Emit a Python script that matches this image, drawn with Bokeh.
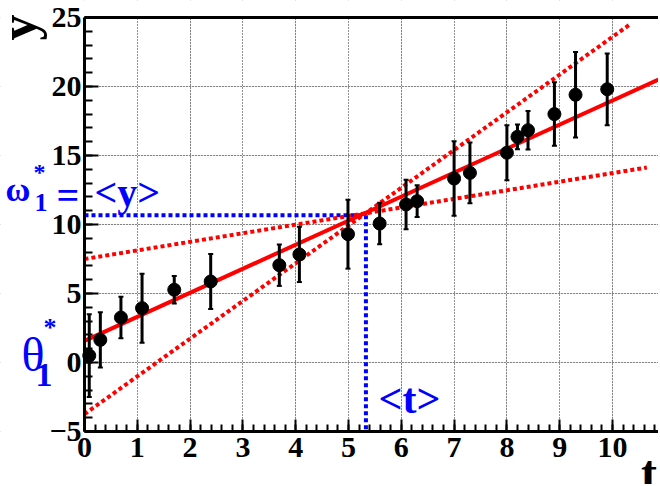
from bokeh.plotting import figure
from bokeh.models import (ColumnDataSource, Label, Range1d, Whisker, TeeHead,
                          LinearAxis, Grid, SingleIntervalTicker, FixedTicker)
from bokeh.embed import file_html
from bokeh.resources import INLINE

# data points
t_vals = [0.09, 0.30, 0.69, 1.09, 1.70, 2.39, 3.69, 4.07, 4.99, 5.59,
          6.09, 6.30, 7.00, 7.30, 8.00, 8.20, 8.40, 8.90, 9.30, 9.90]
y_vals = [0.50, 1.64, 3.26, 3.94, 5.27, 5.87, 7.05, 7.83, 9.30, 10.07,
          11.45, 11.69, 13.33, 13.74, 15.20, 16.35, 16.83, 18.00, 19.40, 19.80]
y_errs = [3.0, 2.0, 1.5, 2.5, 1.0, 2.0, 1.5, 2.0, 2.5, 1.5,
          1.8, 1.15, 2.7, 2.2, 2.0, 0.9, 1.4, 2.3, 3.1, 2.6]

# fitted line and two alternative lines (end points)
fit_t = [0.0, 10.87]
fit_y = [1.57, 20.5]
steep_t = [0.0, 10.33]
steep_y = [-3.74, 24.5]
flat_t = [0.0, 10.65]
flat_y = [7.5, 14.13]

# centroid
mean_t = 5.33
mean_y = 10.67

# axes extents
t_min, t_max = 0.0, 10.87
y_min, y_max = -5.0, 25.0

RED = "#ff0000"
BLUE = "#0000ff"
SERIF = "Liberation Serif"

W, H = 658, 484
# pixel mapping: 52.8 px per t unit, 13.8 px per y unit
x_lo = -84 / 52.8
x_hi = x_lo + W / 52.8
y_hi = y_max + 17 / 13.8
y_lo = y_hi - H / 13.8

p = figure(width=W, height=H, output_backend="svg", toolbar_location=None,
           x_range=Range1d(x_lo, x_hi), y_range=Range1d(y_lo, y_hi),
           x_axis_location=None, y_axis_location=None,
           min_border=0)
p.outline_line_color = None
p.background_fill_color = "white"
p.border_fill_color = "white"

xt = SingleIntervalTicker(interval=1, num_minor_ticks=5)
yt = SingleIntervalTicker(interval=5, num_minor_ticks=5)

p.add_layout(Grid(dimension=0, ticker=xt, grid_line_color="#222222",
                  grid_line_width=1, grid_line_dash="1 2"))
p.add_layout(Grid(dimension=1, ticker=yt, grid_line_color="#222222",
                  grid_line_width=1, grid_line_dash="1 2"))

# mask grid outside the plotting box
p.quad(left=[x_lo - 1, x_lo - 1, x_lo - 1], right=[t_min, x_hi + 1, x_hi + 1],
       bottom=[y_lo - 1, y_max, y_lo - 1], top=[y_hi + 1, y_hi + 1, y_min],
       fill_color="white", line_color=None)

def style_axis(ax):
    ax.axis_line_width = 3
    ax.axis_line_color = "black"
    ax.major_tick_out = 0
    ax.minor_tick_out = 0
    ax.major_tick_line_width = 2
    ax.minor_tick_line_width = 2
    ax.major_label_text_font = SERIF
    ax.major_label_text_font_style = "bold"
    ax.major_label_text_font_size = "30px"
    ax.major_label_text_color = "black"

xaxis = LinearAxis(ticker=xt, fixed_location=y_min, bounds=(t_min, t_max))
style_axis(xaxis)
xaxis.major_tick_in = 12
xaxis.minor_tick_in = 7
xaxis.major_label_standoff = 6
p.add_layout(xaxis, "below")

yaxis = LinearAxis(ticker=yt, fixed_location=t_min, bounds=(y_min, y_max))
style_axis(yaxis)
yaxis.major_tick_in = 14
yaxis.minor_tick_in = 8
yaxis.major_label_standoff = 3
p.add_layout(yaxis, "left")

topaxis = LinearAxis(ticker=FixedTicker(ticks=[], minor_ticks=[]), fixed_location=y_max,
                     bounds=(t_min, t_max),
                     major_tick_in=0, major_tick_out=0, minor_tick_in=0, minor_tick_out=0,
                     axis_line_width=3)
p.add_layout(topaxis, "above")

# blue centroid lines
p.line([t_min, mean_t], [mean_y, mean_y], line_color=BLUE, line_width=4, line_dash="4 3")
p.line([mean_t, mean_t], [mean_y, y_min], line_color=BLUE, line_width=4, line_dash="4 3")

# error bars
src = ColumnDataSource(dict(t=t_vals, y=y_vals,
                            lo=[y - e for y, e in zip(y_vals, y_errs)],
                            hi=[y + e for y, e in zip(y_vals, y_errs)]))
wh = Whisker(source=src, base="t", lower="lo", upper="hi",
             line_color="black", line_width=3, level="glyph",
             upper_head=TeeHead(size=5, line_width=2, line_color="black"),
             lower_head=TeeHead(size=5, line_width=2, line_color="black"))
p.add_layout(wh)

# lines
p.line(steep_t, steep_y, line_color=RED, line_width=4, line_dash="4 3")
p.line(flat_t, flat_y, line_color=RED, line_width=4, line_dash="4 3")
p.line(fit_t, fit_y, line_color=RED, line_width=4)

p.scatter("t", "y", source=src, size=13, color="black")

def lab(x, y, text, size, bold=True, color=BLUE, baseline="alphabetic", angle=0):
    p.add_layout(Label(x=x, y=y, text=text, text_font=SERIF,
                       text_font_size=size, text_font_style="bold" if bold else "normal",
                       text_color=color, text_baseline=baseline, text_align="left",
                       angle=angle))

# axis titles
lab(-1.25, 23.33, "y", "52px", color="black", angle=1.5708)
lab(10.54, -8.0, "t", "48px", color="black")

# omega label
lab(-1.496, 12.54, "ω", "34px", bold=True)
lab(-0.947, 11.59, "1", "26px")
lab(-0.966, 13.77, "*", "24px", baseline="middle")
lab(-0.53, 12.10, "=", "40px", baseline="middle")
lab(0.19, 12.32, "<y>", "40px")

# theta label
lab(-1.193, 0.58, "θ", "48px", bold=False)
lab(-0.928, -0.94, "1", "34px")
lab(-0.777, 2.54, "*", "26px", baseline="middle")

# <t>
lab(5.568, -2.68, "<t>", "42px")

open("out.html", "w").write(file_html(p, INLINE))
